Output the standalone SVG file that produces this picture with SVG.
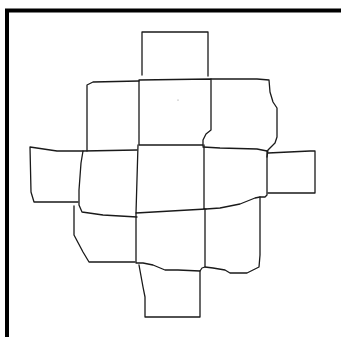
<svg xmlns="http://www.w3.org/2000/svg" width="341" height="337" viewBox="0 0 341 337">
<style>
.s{fill:none;stroke:#1a1a1a;stroke-width:1.3;stroke-linejoin:round;stroke-linecap:round}
.frame{fill:none;stroke:#000;stroke-width:4;stroke-linejoin:miter}
</style>
<rect width="341" height="337" fill="#fff"/>
<path class="frame" d="M7,337 V10.5 H341"/>
<g id="cell-top"><path class="s" d="M142,75 V32 H208 V76"/></g>
<g id="cell-top-left"><path class="s" d="M139,81 L93,82 L87,85 V151"/></g>
<g id="cell-top-center"><path class="s" d="M139,145 V80 L211,79 V130 L206,134 L203,140 V146 M139,145 H203"/><circle cx="178" cy="100" r="0.6" fill="#888"/></g>
<g id="cell-top-right"><path class="s" d="M211,79 L257,79 L269,80 L270,92 L273,102 L277,108 L277,137 L275,143 L268,150 L267,157 M203,147 L220,148 L257,149 L267,151"/></g>
<g id="cell-far-left"><path class="s" d="M83,151 L57,151 L30,147 L31,192 L34,202 L78,202"/></g>
<g id="cell-center-left"><path class="s" d="M137,150 L83,151 L81,163 L79,190 L79,205 L82,212 L103,215 L137,217"/></g>
<g id="cell-center"><path class="s" d="M138,145 L136,213 M136,213 L206,209 M204,145 V209"/></g>
<g id="cell-center-right"><path class="s" d="M267,151 V195 L265,197 L260,197 L255,198 L240,204 L220,208 L206,209"/></g>
<g id="cell-far-right"><path class="s" d="M268,153 L310,151 L315,151 V193 H268"/></g>
<g id="cell-lower-left"><path class="s" d="M74,206 V235 L83,252 L89,262 L135,262"/></g>
<g id="cell-lower-center"><path class="s" d="M136,213 V263 L143,263 L153,265 L165,270 L178,270 L200,271 L202,268 L205,267 V209"/></g>
<g id="cell-lower-right"><path class="s" d="M260,197 V255 L259,267 L247,273 L230,273 L225,270 L213,268 L205,267"/></g>
<g id="cell-bottom"><path class="s" d="M139,265 L143,287 L145,297 V317 H200 V271"/></g>
<g id="connectors"></g>
</svg>
